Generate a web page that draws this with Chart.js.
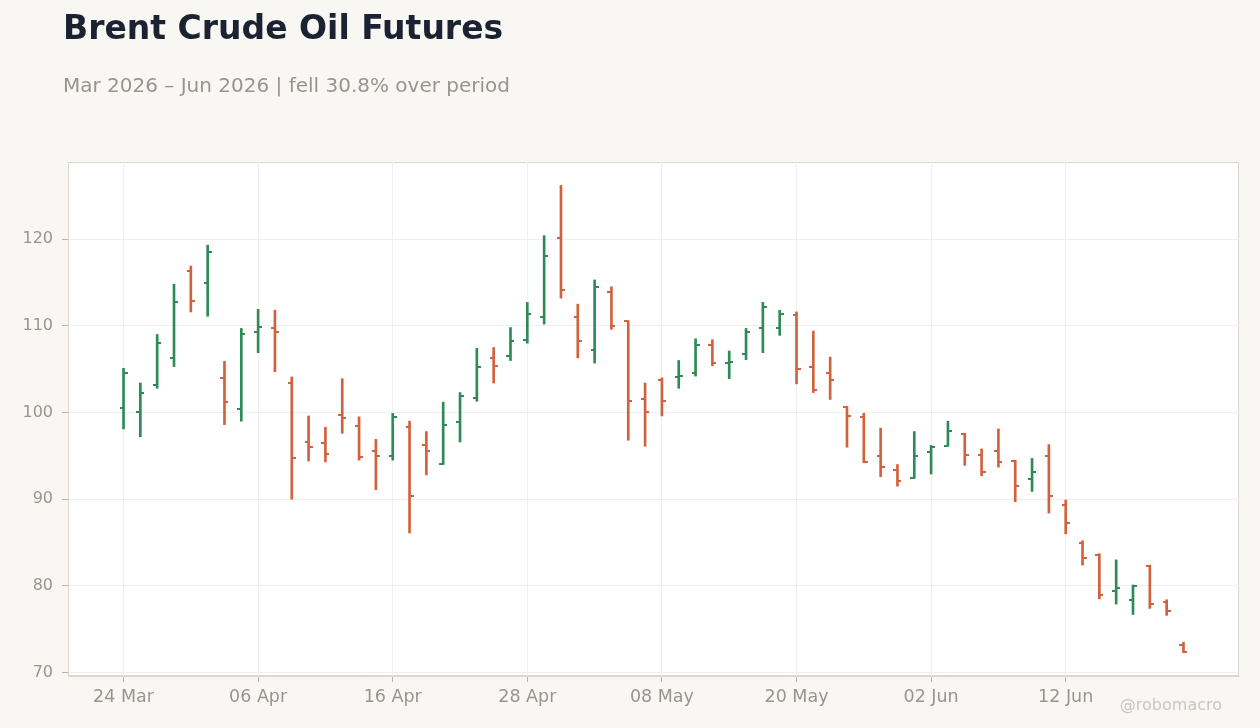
<!DOCTYPE html>
<html lang="en">
<head>
<meta charset="UTF-8">
<title>Brent Crude Oil Futures</title>
<script src="https://cdn.jsdelivr.net/npm/chart.js@4.4.1/dist/chart.umd.min.js"></script>
<style>
  html, body { margin: 0; padding: 0; background: #f8f7f4; }
  #wrap { position: relative; width: 1260px; height: 728px; font-family: "DejaVu Sans", sans-serif; }
  #chart { position: absolute; left: 0; top: 0; }
  .title { position: absolute; left: 63px; top: 11px; font-size: 33px; line-height: 1; font-weight: bold; color: #1b2333; }
  .subtitle { position: absolute; left: 63px; top: 75px; font-size: 20px; line-height: 1; color: #9a948e; }
  .mark { position: absolute; right: 38px; top: 697px; font-size: 16px; line-height: 1; color: #cbc6c0; }
</style>
</head>
<body>
<div id="wrap">
  <canvas id="chart" width="1260" height="728"></canvas>
  <div class="title">Brent Crude Oil Futures</div>
  <div class="subtitle">Mar 2026 – Jun 2026 | fell 30.8% over period</div>
  <div class="mark">@robomacro</div>
</div>
<script>
// trading days (weekends and US holidays skipped)
const dates = [
  '2026-03-24','2026-03-25','2026-03-26','2026-03-27','2026-03-30','2026-03-31',
  '2026-04-01','2026-04-02','2026-04-06','2026-04-07','2026-04-08','2026-04-09','2026-04-10',
  '2026-04-13','2026-04-14','2026-04-15','2026-04-16','2026-04-17','2026-04-20','2026-04-21',
  '2026-04-22','2026-04-23','2026-04-24','2026-04-27','2026-04-28','2026-04-29','2026-04-30',
  '2026-05-01','2026-05-04','2026-05-05','2026-05-06','2026-05-07','2026-05-08','2026-05-11',
  '2026-05-12','2026-05-13','2026-05-14','2026-05-15','2026-05-18','2026-05-19','2026-05-20',
  '2026-05-21','2026-05-22','2026-05-26','2026-05-27','2026-05-28','2026-05-29','2026-06-01',
  '2026-06-02','2026-06-03','2026-06-04','2026-06-05','2026-06-08','2026-06-09','2026-06-10',
  '2026-06-11','2026-06-12','2026-06-15','2026-06-16','2026-06-17','2026-06-18','2026-06-22',
  '2026-06-23','2026-06-24'
];
const openP = [100.5,100.1,103.2,106.3,116.3,114.9,104.0,100.4,109.3,109.7,103.4,96.6,96.5,99.7,98.5,95.6,
  95.0,98.3,96.3,94.1,98.9,101.7,106.3,106.5,108.4,111.0,120.1,111.0,107.2,113.9,110.6,101.6,
  103.7,104.1,104.6,107.8,105.7,106.7,109.7,109.7,111.3,105.3,104.6,100.6,99.5,95.0,93.4,92.4,
  95.4,96.1,97.5,95.1,95.6,94.4,92.3,95.0,89.3,85.0,83.6,79.4,78.4,82.3,78.1,73.2];
const highP = [105.1,103.4,109.0,114.8,116.9,119.3,105.9,109.7,111.9,111.8,104.1,99.6,98.3,103.9,99.5,96.9,
  99.9,99.0,97.8,101.2,102.3,107.4,107.5,109.8,112.7,120.4,126.2,112.5,115.3,114.5,110.6,103.4,
  104.0,106.0,108.5,108.4,107.1,109.7,112.7,111.8,111.6,109.4,106.4,100.7,99.9,98.2,94.0,97.8,
  96.2,99.0,97.6,95.8,98.1,94.5,94.7,96.3,89.9,85.2,83.7,83.0,80.1,82.4,78.4,73.5];
const lowP = [98.1,97.2,102.8,105.3,111.6,111.1,98.6,99.0,106.9,104.7,90.0,94.4,94.3,97.6,94.5,91.1,
  94.5,86.1,92.8,94.0,96.6,101.3,103.4,106.0,108.0,110.2,113.2,106.3,105.7,109.6,96.8,96.1,
  99.6,102.8,104.2,105.4,103.9,106.1,106.9,108.9,103.3,102.3,101.5,96.0,94.2,92.6,91.5,92.4,
  92.9,96.1,93.9,92.7,93.7,89.7,90.9,88.4,86.0,82.4,78.5,77.9,76.7,77.4,76.6,72.3];
const closeP = [104.6,102.3,108.0,112.7,112.9,118.5,101.2,109.1,109.9,109.3,94.8,96.0,95.2,99.4,94.9,95.0,
  99.5,90.4,95.6,98.6,101.9,105.2,105.4,108.3,111.4,118.1,114.1,108.3,114.5,110.0,101.3,100.1,
  101.3,104.2,107.8,105.7,105.8,109.3,112.2,111.4,105.0,102.6,103.7,99.6,94.3,93.7,92.1,95.0,
  96.0,97.9,95.1,93.1,94.3,91.5,93.1,90.4,87.3,83.2,78.9,79.7,80.0,77.9,77.1,72.4];
const yTicks = [70, 80, 90, 100, 110, 120];

const UP = '#2e8b57', DOWN = '#d0623e';
const MONTHS = ['Jan','Feb','Mar','Apr','May','Jun','Jul','Aug','Sep','Oct','Nov','Dec'];
function fmtDate(s) {
  const p = s.split('-');
  return p[2] + ' ' + MONTHS[+p[1] - 1];
}
const isUp = i => closeP[i] >= openP[i];

// little tick images: filled half is left (open) or right (close)
function tickImg(color, side) {
  const c = document.createElement('canvas');
  c.width = 8; c.height = 2;
  const g = c.getContext('2d');
  g.fillStyle = color;
  g.fillRect(side === 'left' ? 0 : 4, 0, 4, 2);
  return c;
}
const imgs = {
  openUp: tickImg(UP, 'left'), openDown: tickImg(DOWN, 'left'),
  closeUp: tickImg(UP, 'right'), closeDown: tickImg(DOWN, 'right')
};

const plotFrame = {
  id: 'plotFrame',
  beforeDraw(chart) {
    const a = chart.chartArea, ctx = chart.ctx;
    ctx.save();
    ctx.fillStyle = '#ffffff';
    ctx.fillRect(a.left, a.top, a.right - a.left, a.bottom - a.top);
    ctx.strokeStyle = '#ddd6cd';
    ctx.lineWidth = 1;
    ctx.strokeRect(a.left + 0.5, a.top + 0.5, a.right - a.left - 1, a.bottom - a.top - 1);
    ctx.restore();
  }
};

new Chart(document.getElementById('chart'), {
  type: 'bar',
  data: {
    datasets: [
      {
        type: 'bar',
        data: dates.map((d, i) => ({ x: i, y: [lowP[i], highP[i]] })),
        backgroundColor: dates.map((d, i) => isUp(i) ? UP : DOWN),
        barThickness: 2,
        borderWidth: 0,
        order: 2
      },
      {
        type: 'scatter',
        data: dates.map((d, i) => ({ x: i, y: openP[i] })),
        pointStyle: ctx => isUp(ctx.dataIndex) ? imgs.openUp : imgs.openDown,
        order: 1
      },
      {
        type: 'scatter',
        data: dates.map((d, i) => ({ x: i, y: closeP[i] })),
        pointStyle: ctx => isUp(ctx.dataIndex) ? imgs.closeUp : imgs.closeDown,
        order: 1
      }
    ]
  },
  options: {
    responsive: false,
    animation: false,
    layout: { padding: { left: 0, right: 21, top: 162, bottom: 0 } },
    plugins: { legend: { display: false }, tooltip: { enabled: false } },
    scales: {
      x: {
        type: 'linear',
        offset: false,
        min: -3.3,
        max: 66.3,
        afterBuildTicks: s => { s.ticks = dates.map((d, i) => i).filter(i => i % 8 === 0).map(v => ({ value: v })); },
        afterFit: s => { s.height = 52; },
        grid: { offset: false, color: '#efefef', tickColor: '#b9b2aa', tickLength: 6 },
        border: { color: '#ddd6cd' },
        ticks: {
          color: '#9a948e',
          font: { family: 'DejaVu Sans', size: 17.5 },
          padding: 5,
          maxRotation: 0,
          callback: v => fmtDate(dates[v])
        }
      },
      y: {
        min: 69.6,
        max: 128.9,
        afterBuildTicks: s => { s.ticks = yTicks.map(v => ({ value: v })); },
        afterFit: s => { s.width = 68; },
        grid: { color: '#efefef', tickColor: '#b9b2aa', tickLength: 6 },
        border: { color: '#ddd6cd' },
        ticks: {
          color: '#9a948e',
          font: { family: 'DejaVu Sans', size: 16 },
          padding: 9
        }
      }
    }
  },
  plugins: [plotFrame]
});
</script>
</body>
</html>
